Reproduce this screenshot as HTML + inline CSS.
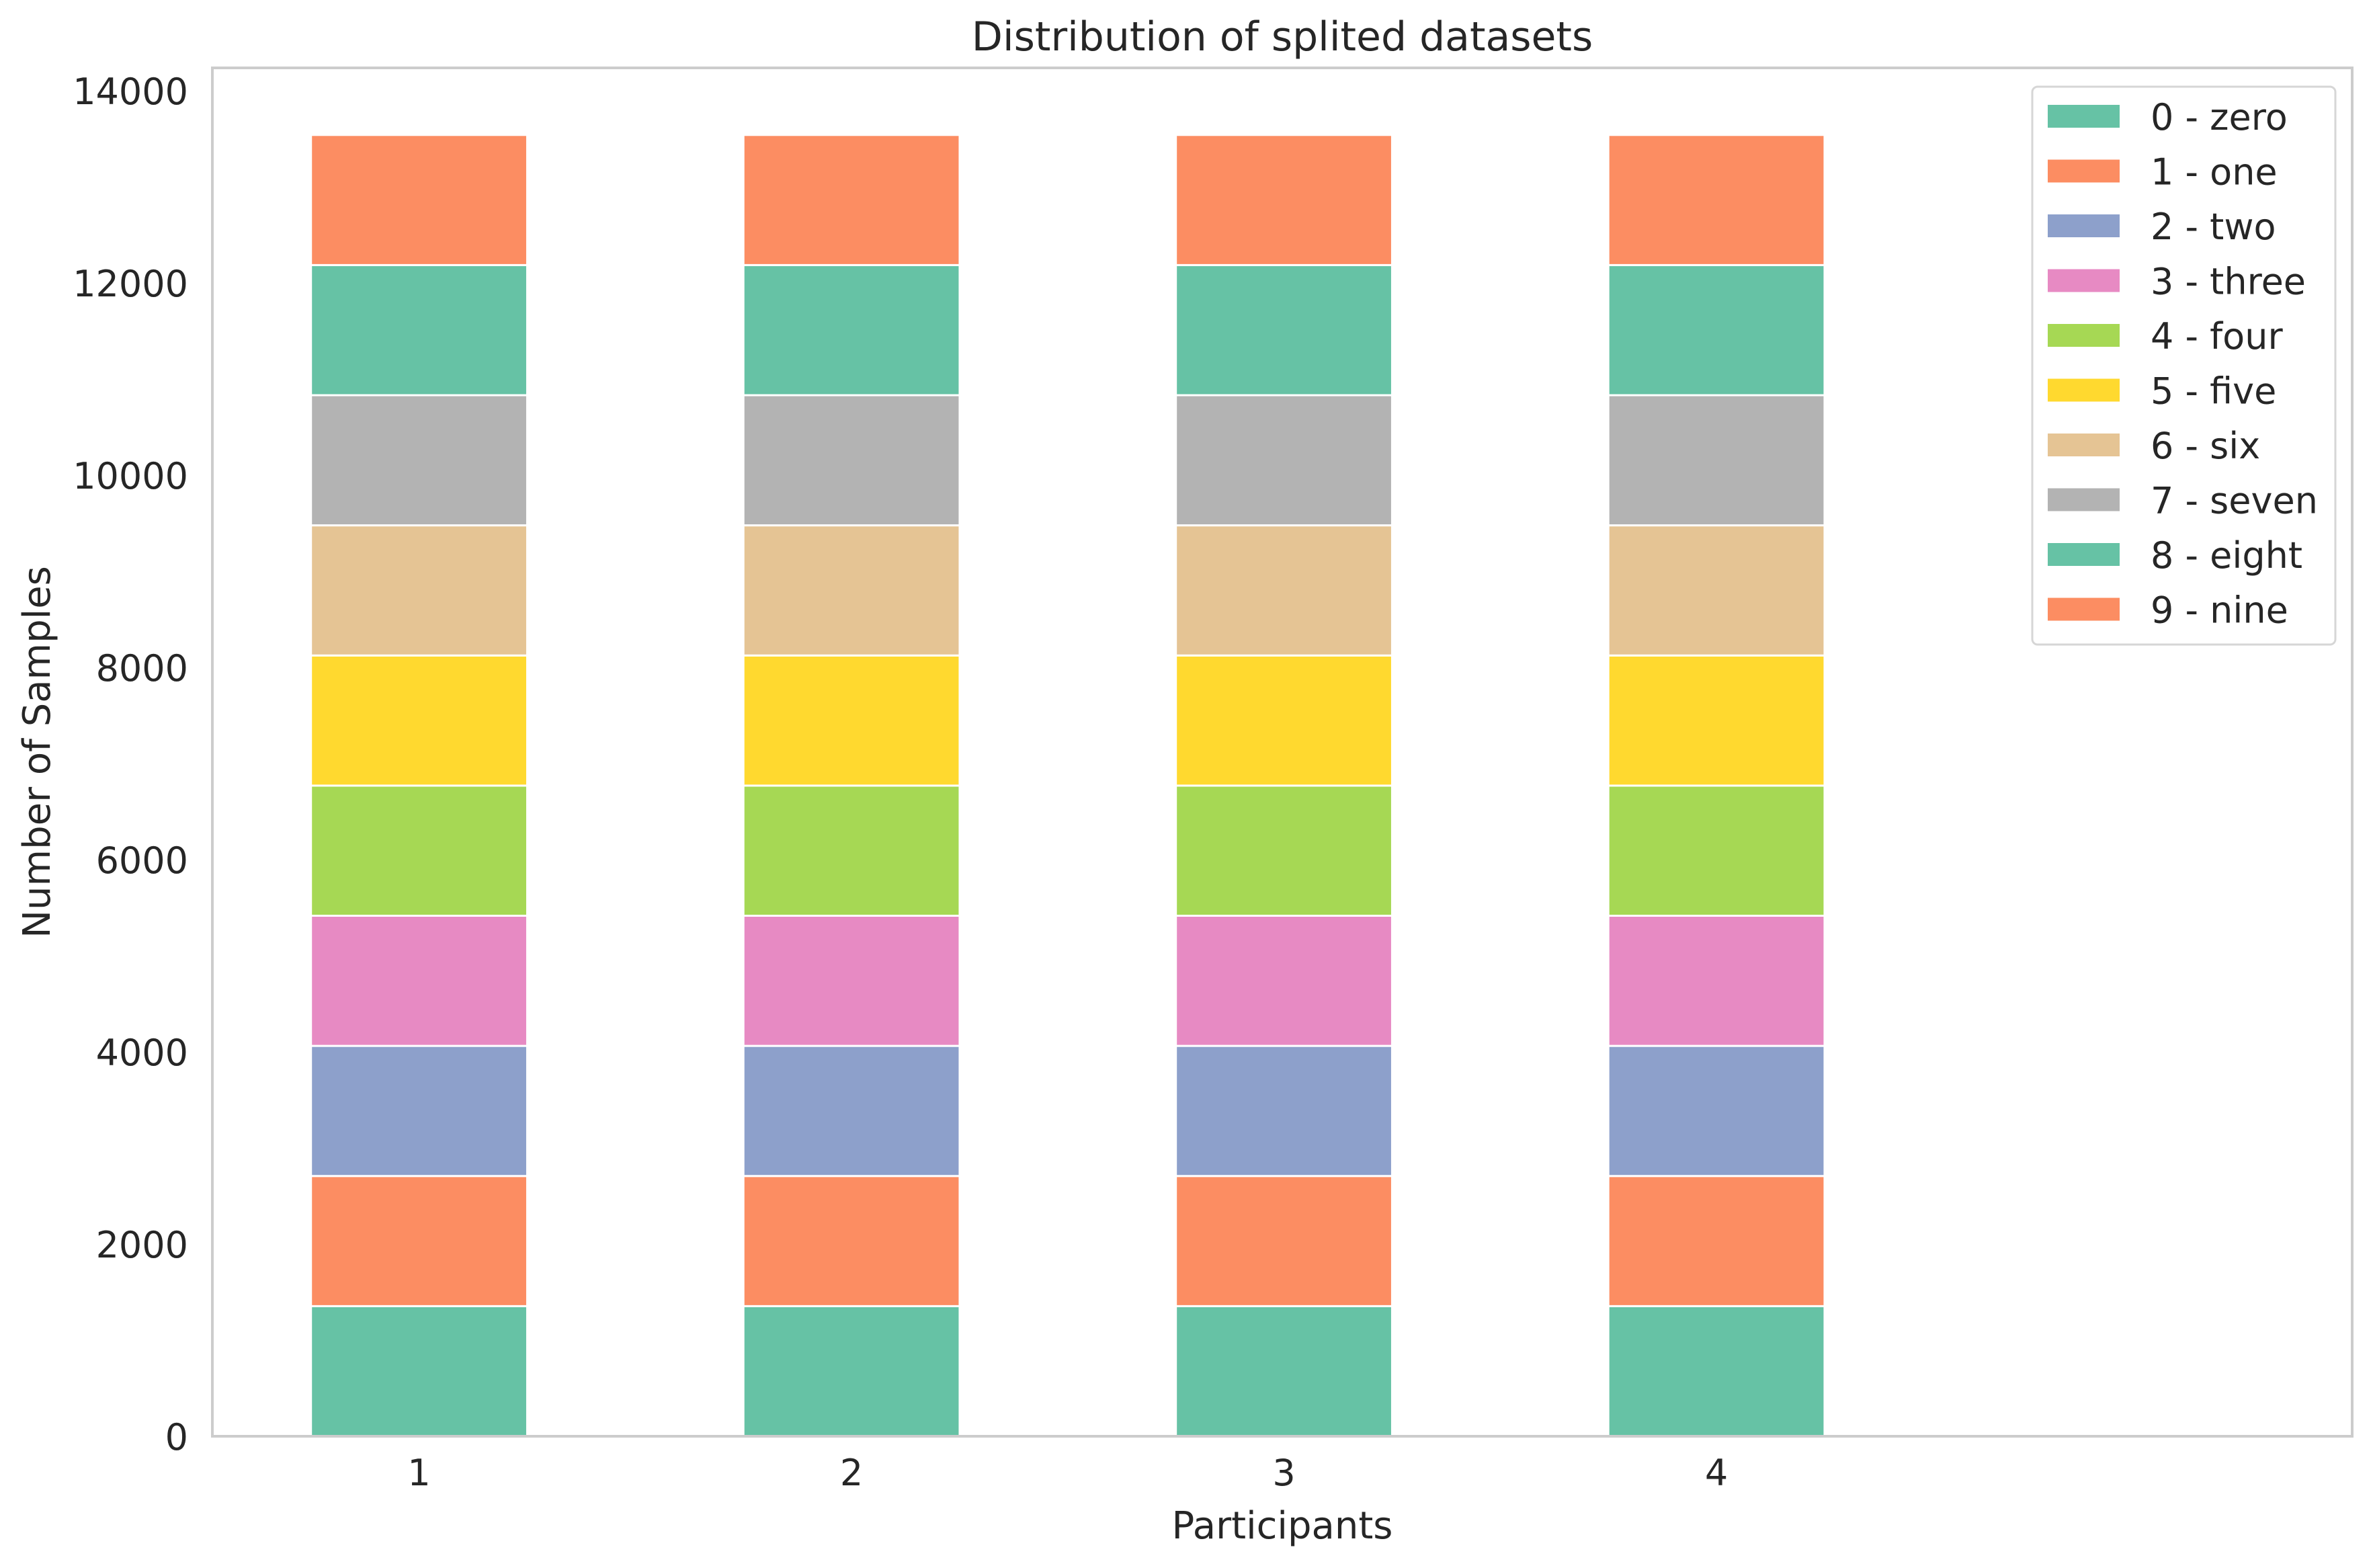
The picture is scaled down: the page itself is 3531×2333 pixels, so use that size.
<!DOCTYPE html>
<html><head><meta charset="utf-8"><style>
html,body{margin:0;padding:0;background:#fff;}
svg{display:block;font-family:"DejaVu Sans","Liberation Sans",sans-serif;}
</style></head><body>
<svg id="chart" width="3531" height="2333" viewBox="0 0 3531 2333" xmlns="http://www.w3.org/2000/svg">
<rect width="3531" height="2333" fill="#fff"/>
<text x="1908" y="75" font-size="60" text-anchor="middle" fill="#262626">Distribution of splited datasets</text>
<g id="bars"></g>
<rect x="316" y="101" width="3184" height="2036" fill="none" stroke="#cccccc" stroke-width="4"/>
<g id="yticks"></g>
<g id="xticks"></g>
<text transform="translate(74,1119) rotate(-90)" font-size="56" text-anchor="middle" fill="#262626">Number of Samples</text>
<text x="1908" y="2289" font-size="56" text-anchor="middle" fill="#262626">Participants</text>
<g id="legend"></g>
</svg>
<script>
const categories = ["1","2","3","4"];
const classLabels = ["0 - zero","1 - one","2 - two","3 - three","4 - four","5 - five","6 - six","7 - seven","8 - eight","9 - nine"];
const p1 = [1354,1354,1354,1354,1354,1354,1354,1354,1354,1354];
const p2 = [1354,1354,1354,1354,1354,1354,1354,1354,1354,1354];
const p3 = [1354,1354,1354,1354,1354,1354,1354,1354,1354,1354];
const p4 = [1354,1354,1354,1354,1354,1354,1354,1354,1354,1354];
const yTicks = [0,2000,4000,6000,8000,10000,12000,14000];
const colors = ["#66c2a5","#fc8d62","#8da0cb","#e78ac3","#a6d854","#ffd92f","#e5c494","#b3b3b3","#66c2a5","#fc8d62"];
const series = [p1,p2,p3,p4];

const NS = "http://www.w3.org/2000/svg";
const y0 = 2137, yPer = (2137-135)/14000;
function yScale(v){ return y0 - v*yPer; }
const xLeft = 316, xRight = 3500, xMin = -0.478, xMax = 4.47;
function xScale(i){ return xLeft + (i - xMin)/(xMax - xMin)*(xRight - xLeft); }
const barW = 0.5*(xScale(1)-xScale(0));

const gb = document.getElementById('bars');
series.forEach((vals, ci) => {
  let cum = 0;
  vals.forEach((v, k) => {
    const r = document.createElementNS(NS,'rect');
    
    
    const top = yScale(cum + v), bot = yScale(cum);
    r.setAttribute('x', xScale(ci) - barW/2);
    r.setAttribute('y', top);
    r.setAttribute('width', barW);
    r.setAttribute('height', bot - top);
    r.setAttribute('fill', colors[k]);
    r.setAttribute('stroke', '#fff');
    r.setAttribute('stroke-width', '3');
    gb.appendChild(r);
    cum += v;
  });
});

const gy = document.getElementById('yticks');
yTicks.forEach(t => {
  const tx = document.createElementNS(NS,'text');
  
  
  tx.setAttribute('x', 280);
  tx.setAttribute('y', yScale(t) + 20);
  tx.setAttribute('font-size', '54');
  tx.setAttribute('text-anchor', 'end');
  tx.setAttribute('fill', '#262626');
  tx.textContent = t;
  gy.appendChild(tx);
});

const gx = document.getElementById('xticks');
categories.forEach((c, i) => {
  const tx = document.createElementNS(NS,'text');
  
  
  tx.setAttribute('x', xScale(i));
  tx.setAttribute('y', 2210);
  tx.setAttribute('font-size', '54');
  tx.setAttribute('text-anchor', 'middle');
  tx.setAttribute('fill', '#262626');
  tx.textContent = c;
  gx.appendChild(tx);
});

const gl = document.getElementById('legend');
const box = document.createElementNS(NS,'rect');


box.setAttribute('x', 3024); box.setAttribute('y', 129);
box.setAttribute('width', 451); box.setAttribute('height', 830);
box.setAttribute('rx', 8);
box.setAttribute('fill', '#fff'); box.setAttribute('stroke', '#d6d6d6'); box.setAttribute('stroke-width', '3');
gl.appendChild(box);
classLabels.forEach((lab, k) => {
  const cy = 173 + k*81.5;
  const sw = document.createElementNS(NS,'rect');
  
  
  sw.setAttribute('x', 3047); sw.setAttribute('y', cy - 17);
  sw.setAttribute('width', 107); sw.setAttribute('height', 34);
  sw.setAttribute('fill', colors[k]);
  gl.appendChild(sw);
  const tx = document.createElementNS(NS,'text');
  
  
  tx.setAttribute('x', 3200); tx.setAttribute('y', cy + 20);
  tx.setAttribute('font-size', '54');
  tx.setAttribute('fill', '#262626');
  tx.textContent = lab;
  gl.appendChild(tx);
});
</script>
</body></html>
